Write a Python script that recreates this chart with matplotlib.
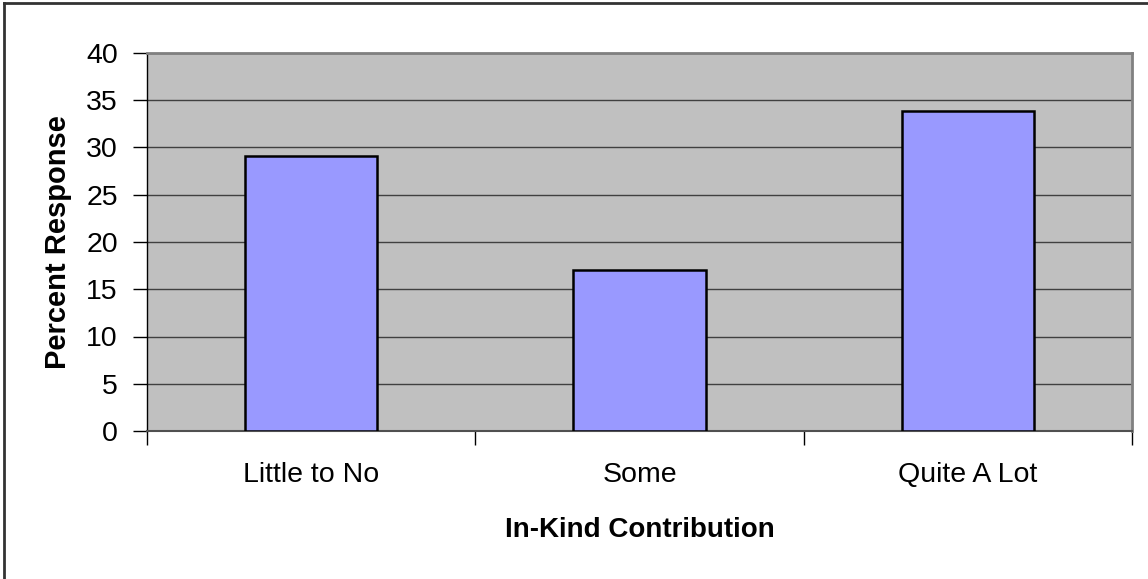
import matplotlib.pyplot as plt
from matplotlib.lines import Line2D

plt.rcParams['font.family'] = ['Liberation Sans', 'DejaVu Sans']

categories = ['Little to No', 'Some', 'Quite A Lot']
percent = [29.1, 17.0, 33.9]
y_ticks = [0, 5, 10, 15, 20, 25, 30, 35, 40]

fig = plt.figure(figsize=(11.48, 5.79), dpi=100)
ax = fig.add_axes([147 / 1148, 1 - 431 / 579, 985 / 1148, 378 / 579])
ax.set_facecolor('#C0C0C0')

x = list(range(len(categories)))
ax.bar(x, percent, width=0.403, color='#9999FF', edgecolor='black',
       linewidth=1.8, zorder=3)

ax.set_xlim(-0.5, len(categories) - 0.5)
ax.set_ylim(0, 40)
ax.set_yticks(y_ticks)
ax.yaxis.grid(True, color='#404040', linewidth=1.0, zorder=1)
ax.set_axisbelow(True)

# category labels sit between the boundary ticks
ax.set_xticks(x)
ax.set_xticklabels(categories, fontsize=20.5)
ax.tick_params(axis='x', which='major', length=0, pad=22)
ax.set_xticks([i + 0.5 for i in range(-1, len(categories))], minor=True)
ax.tick_params(axis='x', which='minor', length=10, width=1, color='black',
               direction='out')
ax.tick_params(axis='y', length=10, width=1, color='black', labelsize=20.5, pad=11)

for side in ['top', 'right']:
    ax.spines[side].set_color('#808080')
    ax.spines[side].set_linewidth(2)
ax.spines['bottom'].set_color('#505050')
ax.spines['bottom'].set_linewidth(1.5)
ax.spines['left'].set_color('black')
ax.spines['left'].set_linewidth(1)

ax.set_xlabel('In-Kind Contribution', fontsize=20, fontweight='bold', labelpad=21)
ax.set_ylabel('Percent Response', fontsize=21, fontweight='bold', labelpad=10.5)

# chart frame
fig.add_artist(Line2D([4 / 1148, 4 / 1148], [0, 1 - 3 / 579], color='#333333', linewidth=2))
fig.add_artist(Line2D([4 / 1148, 1], [1 - 3 / 579, 1 - 3 / 579], color='#333333', linewidth=2))

fig.savefig('out.png', dpi=100)
